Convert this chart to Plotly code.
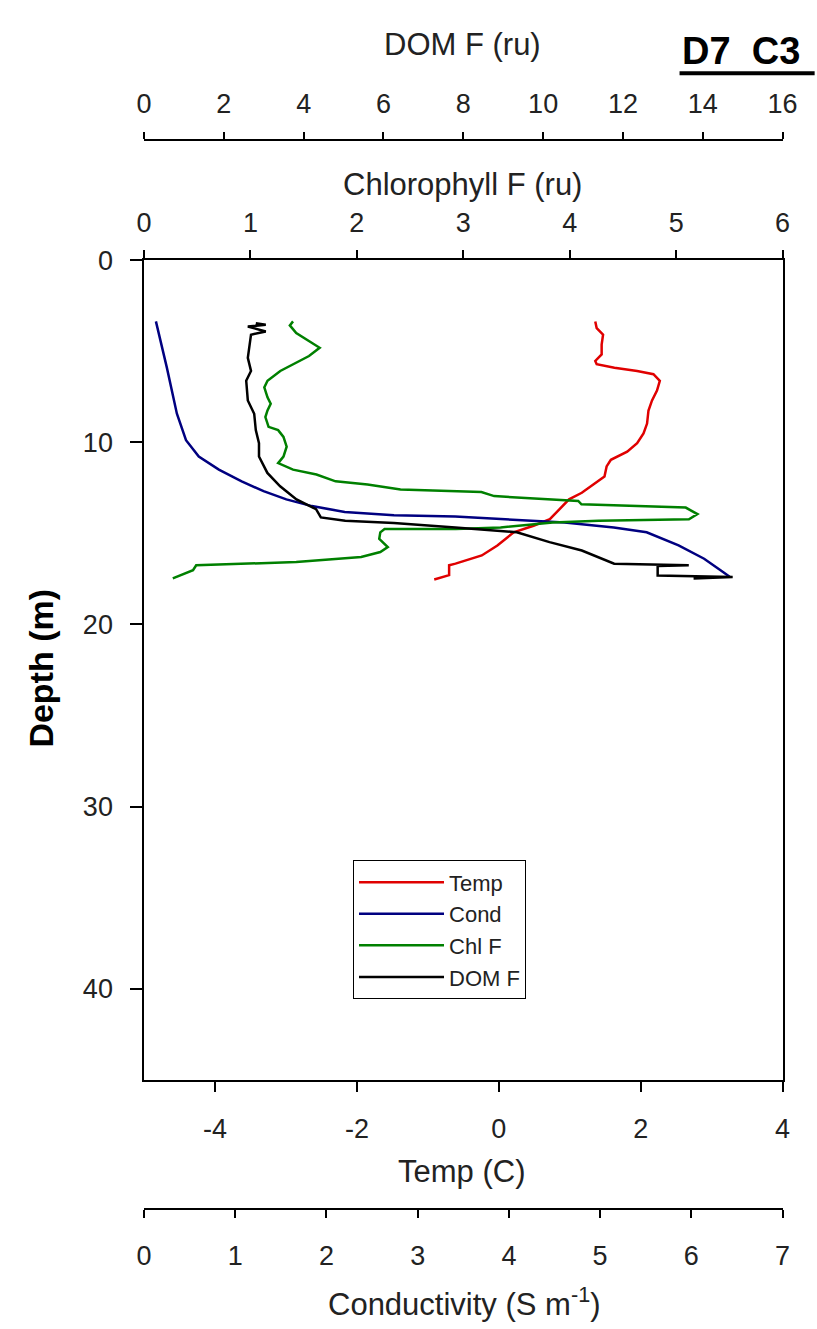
import plotly.graph_objects as go

# ---------------- data ----------------
temp_depth = [3.36, 3.73, 4.09, 4.63, 5.17, 5.53, 5.71, 5.90, 6.08, 6.26, 6.62, 7.16, 7.70, 8.25,
              8.97, 9.51, 10.05, 10.51, 10.96, 11.32, 11.87, 12.22, 12.77, 13.13, 13.67, 14.22,
              14.58, 14.94, 15.66, 16.21, 16.66, 16.75, 17.29, 17.53]
temp_vals = [1.36, 1.38, 1.47, 1.45, 1.45, 1.36, 1.38, 1.63, 1.95, 2.18, 2.27, 2.23, 2.16, 2.11,
             2.09, 2.04, 1.95, 1.81, 1.58, 1.52, 1.49, 1.36, 1.17, 0.99, 0.85, 0.72,
             0.49, 0.21, -0.02, -0.24, -0.61, -0.70, -0.70, -0.91]

cond_depth = [3.36, 5.90, 8.43, 9.88, 10.78, 11.50, 12.14, 12.68, 13.13, 13.50, 13.82, 14.00,
              14.07, 14.22, 14.40, 14.67, 14.94, 15.66, 16.39, 17.02, 17.38]
cond_vals = [0.13, 0.25, 0.36, 0.46, 0.60, 0.82, 1.07, 1.31, 1.56, 1.84, 2.20, 2.74,
             3.41, 3.91, 4.61, 5.15, 5.51, 5.86, 6.14, 6.32, 6.42]

chl_depth = [3.36, 3.58, 4.00, 4.45, 4.81, 5.26, 5.63, 6.08, 6.62, 6.98, 7.53, 7.88, 8.25, 8.61,
             9.15, 9.33, 9.70, 10.24, 10.78, 11.14, 11.50, 11.77, 12.14, 12.32, 12.59, 12.68,
             12.73, 12.95, 13.09, 13.22, 13.40, 13.49, 13.58, 13.94, 14.22, 14.31, 14.40, 14.67,
             14.76, 14.76, 14.94, 15.30, 15.75, 16.02, 16.29, 16.57, 16.71, 16.75, 17.02, 17.29,
             17.47]
chl_vals = [1.40, 1.37, 1.43, 1.55, 1.65, 1.55, 1.43, 1.28, 1.16, 1.13, 1.16, 1.19, 1.16, 1.14,
            1.17, 1.26, 1.31, 1.34, 1.31, 1.26, 1.40, 1.62, 1.80, 2.10, 2.41, 2.93,
            3.17, 3.29, 3.75, 4.08, 4.11, 4.69, 5.09, 5.20, 5.12, 4.27, 3.84, 3.35,
            2.93, 2.26, 2.22, 2.21, 2.29, 2.22, 2.04, 1.43, 0.82, 0.49, 0.46, 0.34,
            0.27]

dom_depth = [3.46, 3.54, 3.64, 3.91, 4.09, 4.63, 5.36, 6.08, 6.62, 7.70, 8.43, 9.33, 10.05,
             10.78, 11.68, 12.41, 13.13, 13.67, 14.12, 14.31, 14.43, 14.67, 14.94, 15.48, 15.94,
             16.66, 16.75, 16.79, 17.31, 17.39, 17.47]
dom_vals = [2.80, 3.05, 2.60, 3.05, 2.68, 2.64, 2.60, 2.68, 2.56, 2.60, 2.76, 2.80, 2.88,
            2.88, 3.09, 3.41, 3.82, 4.31, 4.43, 5.04, 6.26, 7.80, 9.34, 10.16, 10.97,
            11.78, 13.65, 12.87, 12.87, 14.75, 13.77]

series_names = ["Temp", "Cond", "Chl F", "DOM F"]
series_colors = ["#e00000", "#000080", "#008000", "#000000"]

temp_ticks = [-4, -2, 0, 2, 4]
temp_ticktext = ["-4", "-2", "0", "2", "4"]
cond_ticks = [0, 1, 2, 3, 4, 5, 6, 7]
chl_ticks = [0, 1, 2, 3, 4, 5, 6]
dom_ticks = [0, 2, 4, 6, 8, 10, 12, 14, 16]
depth_ticks = [0, 10, 20, 30, 40]

# ---------------- layout helpers (page pixel -> paper) ----------------
W, H = 817, 1329
def fx(x):
    return x / W
def fy(y):
    return 1 - y / H

PL, PR, PT, PB = 140, 797, 248, 1077
FONT = "Liberation Sans, Arial, sans-serif"
TICKFONT = dict(family=FONT, size=27, color="#222222")
TITLEFONT = dict(family=FONT, size=31, color="#222222")

axis_common = dict(
    showline=True, linecolor="#000000", linewidth=1.5,
    ticks="outside", tickcolor="#000000", tickwidth=1.5,
    showgrid=False, zeroline=False, tickfont=TICKFONT,
)

fig = go.Figure()
fig.add_trace(go.Scatter(x=temp_vals, y=temp_depth, mode="lines", name=series_names[0],
                         line=dict(color=series_colors[0], width=2.5), xaxis="x", yaxis="y"))
fig.add_trace(go.Scatter(x=cond_vals, y=cond_depth, mode="lines", name=series_names[1],
                         line=dict(color=series_colors[1], width=2.5), xaxis="x2", yaxis="y"))
fig.add_trace(go.Scatter(x=chl_vals, y=chl_depth, mode="lines", name=series_names[2],
                         line=dict(color=series_colors[2], width=2.5), xaxis="x3", yaxis="y"))
fig.add_trace(go.Scatter(x=dom_vals, y=dom_depth, mode="lines", name=series_names[3],
                         line=dict(color=series_colors[3], width=2.5), xaxis="x4", yaxis="y"))

fig.update_layout(
    width=W, height=H,
    margin=dict(l=0, r=0, t=0, b=0, pad=0),
    paper_bgcolor="white", plot_bgcolor="white",
    font=dict(family=FONT, color="#222222"),
    xaxis=dict(domain=[fx(PL), fx(PR)], range=[-5, 4], anchor="y", side="bottom",
               tickvals=temp_ticks, ticktext=temp_ticktext, ticklen=10,
               ticklabelstandoff=14, **axis_common),
    xaxis2=dict(domain=[fx(PL), fx(PR)], range=[0, 7], overlaying="x", anchor="free",
                position=fy(1208), side="bottom", tickvals=cond_ticks, ticklen=8,
                ticklabelstandoff=14, **axis_common),
    xaxis3=dict(domain=[fx(PL), fx(PR)], range=[0, 6], overlaying="x", anchor="y",
                side="top", tickvals=chl_ticks, ticklen=8, ticklabelstandoff=8, **axis_common),
    xaxis4=dict(domain=[fx(PL), fx(PR)], range=[0, 16], overlaying="x", anchor="free",
                position=fy(126), side="top", tickvals=dom_ticks, ticklen=7,
                ticklabelstandoff=8, **axis_common),
    yaxis=dict(domain=[fy(PB), fy(PT)], range=[45, 0], anchor="x", tickvals=depth_ticks,
               ticklen=12, mirror=True, ticklabelstandoff=12, **axis_common),
    legend=dict(x=fx(355), y=fy(855), xanchor="left", yanchor="top",
                bordercolor="#000000", borderwidth=1, bgcolor="white",
                font=dict(family=FONT, size=22, color="#222222"),
                itemwidth=85, entrywidth=200, tracegroupgap=0),
    showlegend=True,
)

annotations = [
    dict(text="DOM F (ru)", x=fx(468), y=fy(30), font=TITLEFONT),
    dict(text="Chlorophyll F (ru)", x=fx(468), y=fy(171), font=TITLEFONT),
    dict(text="Temp (C)", x=fx(467), y=fy(1170), font=TITLEFONT),
    dict(text="Conductivity (S m<sup>-1</sup>)", x=fx(470), y=fy(1302), font=TITLEFONT),
    dict(text="<b>Depth (m)</b>", x=fx(33), y=fy(661), textangle=-90,
         font=dict(family=FONT, size=34, color="#000000")),
    dict(text="<b>D7\u00a0\u00a0C3</b>", x=fx(691), y=fy(36), xanchor="left",
         font=dict(family=FONT, size=38, color="#000000")),
]
for a in annotations:
    a.setdefault("xanchor", "center")
    fig.add_annotation(xref="paper", yref="paper", yanchor="middle", showarrow=False, **a)

fig.add_shape(type="line", xref="paper", yref="paper", x0=fx(691), x1=fx(830),
              y0=fy(59), y1=fy(59), line=dict(color="#000000", width=4))

fig.write_html("out.html", config={"displayModeBar": False},
               post_script="document.body.style.margin='0';")
